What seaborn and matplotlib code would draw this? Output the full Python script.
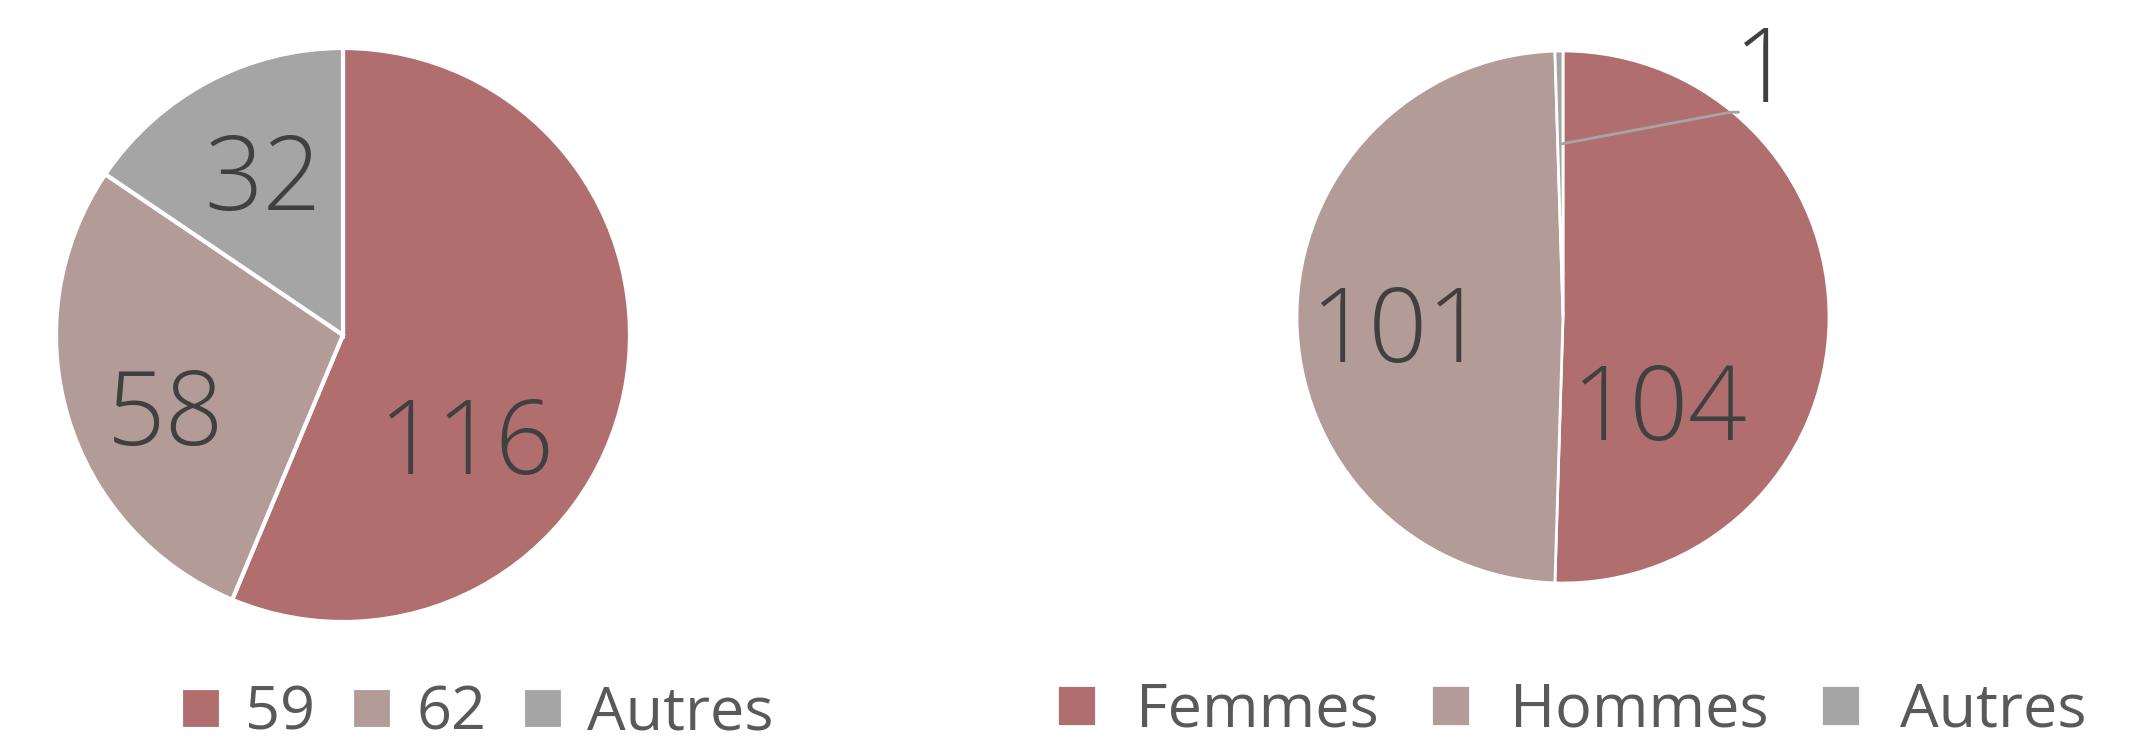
import matplotlib
matplotlib.use("Agg")
import numpy as np
import matplotlib.pyplot as plt
import seaborn as sns
from matplotlib import font_manager

# left pie: departement
dep_labels = ["59", "62", "Autres"]
dep_values = [116, 58, 32]

# right pie: sexe
sex_labels = ["Femmes", "Hommes", "Autres"]
sex_values = [104, 101, 1]

colors = ["#B06F6E", "#B39B97", "#A5A5A5"]

sns.set_theme(style="white")
plt.rcParams["font.family"] = ["Open Sans", "DejaVu Sans"]

names = {f.name for f in font_manager.fontManager.ttflist}
num_font = ["Liberation Sans Narrow", "Open Sans", "DejaVu Sans"]
num_font = [f for f in num_font if f in names] or ["DejaVu Sans"]

fig = plt.figure(figsize=(21.5, 7.45), dpi=100)
W, H = 2150, 745


def pie_axes(cx, cy, r):
    ax = fig.add_axes([(cx - r) / W, (H - cy - r) / H, 2 * r / W, 2 * r / H])
    ax.axis("off")
    return ax


def fix_limits(ax):
    ax.set_xlim(-1, 1)
    ax.set_ylim(-1, 1)
    ax.set_aspect("equal")


# label spots in radius units (layout only)
left_pos = [(0.43, -0.39), (-0.62, -0.29), (-0.28, 0.53)]
right_pos = [(0.36, -0.36), (-0.62, -0.07), (0.75, 0.91)]

ax1 = pie_axes(343, 335, 287)
w1, _ = ax1.pie(dep_values, colors=colors, startangle=90, counterclock=False,
                wedgeprops={"edgecolor": "white", "linewidth": 3})
fix_limits(ax1)
for v, (x, y) in zip(dep_values, left_pos):
    ax1.text(x, y, str(v), ha="center", va="center", fontsize=74,
             fontweight="light", color="#404040", family=num_font)

ax2 = pie_axes(1563, 317, 266)
w2, _ = ax2.pie(sex_values, colors=colors, startangle=90, counterclock=False,
                wedgeprops={"edgecolor": "white", "linewidth": 2})
fix_limits(ax2)
for v, (x, y) in zip(sex_values, right_pos):
    ax2.text(x, y, str(v), ha="center", va="center", fontsize=74,
             fontweight="light", color="#404040", family=num_font,
             clip_on=False)

# leader line for the small slice
t = np.deg2rad((w2[2].theta1 + w2[2].theta2) / 2)
sx, sy = 0.65 * np.cos(t), 0.65 * np.sin(t)
ax2.plot([sx, 0.63, 0.66], [sy, 0.77, 0.77], color="#A5A5A5", lw=2,
         clip_on=False)

leg_kw = dict(loc="center", ncol=3, frameon=False, fontsize=44,
              handlelength=0.65, handleheight=0.65, labelcolor="#595959",
              borderpad=0.2)
fig.legend(w1, dep_labels, bbox_to_anchor=(0.222, 0.042),
           handletextpad=0.4, columnspacing=0.6, **leg_kw)
fig.legend(w2, sex_labels, bbox_to_anchor=(0.731, 0.046),
           handletextpad=0.65, columnspacing=0.85, **leg_kw)

fig.savefig("out.png", dpi=100, facecolor="white")
